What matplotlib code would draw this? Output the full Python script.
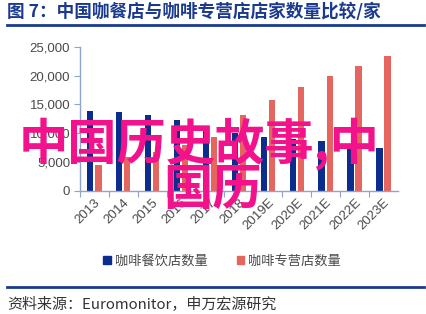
import matplotlib
matplotlib.use("Agg")
import matplotlib.pyplot as plt
from matplotlib.patches import Patch
from matplotlib.lines import Line2D
import numpy as np

plt.rcParams['font.family'] = ['Noto Sans CJK SC', 'DejaVu Sans']

years = ["2013", "2014", "2015", "2016", "2017", "2018",
         "2019E", "2020E", "2021E", "2022E", "2023E"]
cafe_restaurants = [13800, 13700, 13200, 12300, 11200, 10100, 9400, 9000, 8700, 8000, 7400]
coffee_shops = [4500, 5800, 6700, 8000, 9400, 13200, 15800, 18000, 19900, 21700, 23400]
yticks = [0, 5000, 10000, 15000, 20000, 25000]

title = "图 7：中国咖餐店与咖啡专营店店家数量比较/家"
source = "资料来源：Euromonitor，申万宏源研究"
series_names = ["咖啡餐饮店数量", "咖啡专营店数量"]
watermark = ["中国历史故事,中", "国历"]

blue = "#0B2D8E"
red = "#E5665F"
axis_col = "#8FA3CC"
text_col = "#4A4A4A"
navy = "#1A3A8F"

fig = plt.figure(figsize=(4.27, 3.14), dpi=100)
ax = fig.add_axes([0.187, 0.392, 0.745, 0.459])

x = np.arange(len(years))
w = 0.22
ax.bar(x - 0.14, cafe_restaurants, w, color=blue, zorder=2)
ax.bar(x + 0.14, coffee_shops, w, color=red, zorder=2)

ax.set_xlim(-0.5, len(years) - 0.5)
ax.set_ylim(0, 25000)
ax.set_yticks(yticks)
ax.set_yticklabels([f"{v:,}" for v in yticks], family="Liberation Sans",
                   fontsize=9.5, color=text_col)

# ticks on category boundaries, labels on the centres (Excel style)
ax.set_xticks(x - 0.5, minor=False)
ax.set_xticklabels([])
ax.set_xticks(x, minor=True)
ax.set_xticklabels(years, minor=True, rotation=45, ha="right", va="top",
                   rotation_mode="anchor", family="Liberation Sans",
                   fontsize=9.5, color=text_col)
ax.tick_params(axis="x", which="minor", length=0, pad=4)
ax.tick_params(axis="x", which="major", length=4, color=axis_col)
ax.tick_params(axis="y", length=4, color=axis_col, pad=3)

for s in ["top", "right"]:
    ax.spines[s].set_visible(False)
for s in ["left", "bottom"]:
    ax.spines[s].set_color(axis_col)
    ax.spines[s].set_linewidth(1)

handles = [Patch(color=blue), Patch(color=red)]
fig.legend(handles, series_names, loc="center", bbox_to_anchor=(0.52, 0.168),
           ncol=2, frameon=False, handlelength=0.6, handleheight=0.6,
           handletextpad=0.3, columnspacing=2.2, fontsize=9.5,
           labelcolor=text_col)

fig.text(0.016, 0.962, title, fontsize=12.7, fontweight="bold", color=navy,
         ha="left", va="center")
fig.add_artist(Line2D([0.016, 0.993], [0.920, 0.920], color=navy, lw=2))
fig.add_artist(Line2D([0.016, 0.993], [0.086, 0.086], color=navy, lw=2))
fig.text(0.016, 0.029, source, fontsize=10.8, color="#333333",
         ha="left", va="center")

fig.text(0.466, 0.543, watermark[0], fontsize=35.5, fontweight="bold",
         color="#F2138C", ha="center", va="center", zorder=10)
fig.text(0.498, 0.393, watermark[1], fontsize=35.5, fontweight="bold",
         color="#F2138C", ha="center", va="center", zorder=10)

fig.savefig("out.png", dpi=100)
